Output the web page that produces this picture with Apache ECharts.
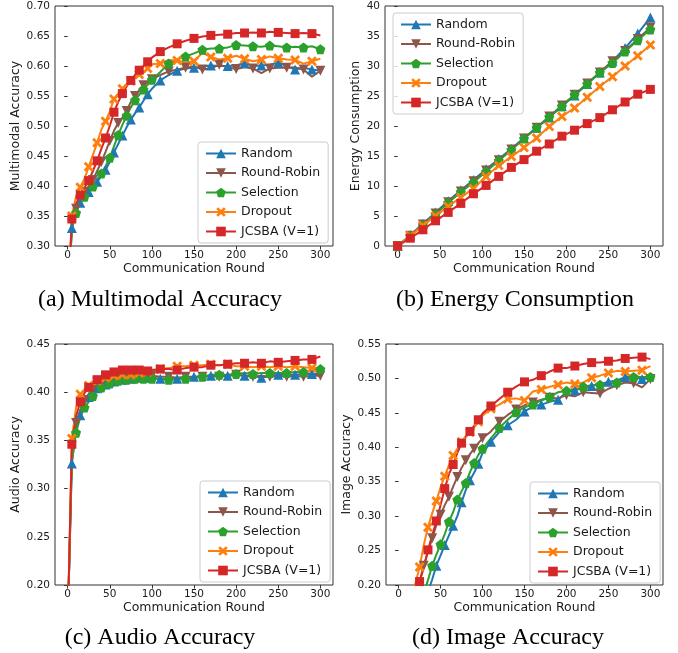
<!DOCTYPE html>
<html>
<head>
<meta charset="utf-8">
<script src="https://cdn.jsdelivr.net/npm/echarts@6/dist/echarts.min.js"></script>
<style>
  html, body { margin: 0; padding: 0; background: #fff; }
  #chart { width: 678px; height: 653px; }
</style>
</head>
<body>
<div id="chart"></div>
<script>
// method names, colours follow matplotlib tab10
var methods = ['Random', 'Round-Robin', 'Selection', 'Dropout', 'JCSBA (V=1)'];
var colors = ['#1f77b4', '#8c564b', '#2ca02c', '#ff7f0e', '#d62728'];
var xTicks = [0, 50, 100, 150, 200, 250, 300];

// rounds logged for the accuracy curves
var accRounds = [1, 5, 10, 15, 20, 25, 30, 35, 40, 45, 50, 55, 60, 65, 70, 75, 80, 85, 90, 95, 100,
  110, 120, 130, 140, 150, 160, 170, 180, 190, 200, 210, 220, 230, 240, 250, 260, 270, 280, 290, 300];
// rounds logged for energy
var enRounds = [0, 15, 30, 45, 60, 75, 90, 105, 120, 135, 150, 165, 180, 195, 210, 225, 240, 255, 270, 285, 300];

// (a) multimodal accuracy
var mmRandom = [0.22, 0.330, 0.360, 0.372, 0.382, 0.390, 0.398, 0.407, 0.416, 0.427, 0.440,
  0.456, 0.470, 0.484, 0.498, 0.511, 0.521, 0.531, 0.542, 0.553, 0.562,
  0.576, 0.585, 0.592, 0.596, 0.597, 0.599, 0.601, 0.600, 0.600, 0.601,
  0.605, 0.600, 0.601, 0.602, 0.606, 0.600, 0.594, 0.597, 0.594, 0.592];
var mmRR = [0.22, 0.335, 0.362, 0.378, 0.390, 0.400, 0.410, 0.425, 0.440, 0.457, 0.475,
  0.492, 0.505, 0.514, 0.525, 0.540, 0.550, 0.560, 0.568, 0.573, 0.578,
  0.585, 0.591, 0.594, 0.597, 0.599, 0.594, 0.596, 0.602, 0.598, 0.595,
  0.598, 0.596, 0.588, 0.596, 0.597, 0.597, 0.598, 0.594, 0.582, 0.592];
var mmSel = [0.22, 0.328, 0.355, 0.372, 0.382, 0.392, 0.399, 0.410, 0.421, 0.433, 0.447,
  0.466, 0.485, 0.502, 0.517, 0.531, 0.543, 0.552, 0.561, 0.569, 0.577,
  0.590, 0.604, 0.611, 0.616, 0.621, 0.627, 0.629, 0.629, 0.631, 0.635,
  0.634, 0.633, 0.632, 0.634, 0.633, 0.631, 0.632, 0.631, 0.633, 0.628];
var mmDrop = [0.22, 0.350, 0.383, 0.398, 0.412, 0.432, 0.452, 0.472, 0.494, 0.508, 0.524,
  0.545, 0.554, 0.562, 0.570, 0.575, 0.580, 0.586, 0.589, 0.596, 0.603,
  0.604, 0.610, 0.609, 0.606, 0.608, 0.622, 0.615, 0.611, 0.613, 0.617,
  0.612, 0.608, 0.611, 0.616, 0.613, 0.611, 0.610, 0.604, 0.608, 0.612];
var mmJC = [0.22, 0.345, 0.370, 0.385, 0.397, 0.409, 0.425, 0.442, 0.462, 0.480, 0.500,
  0.523, 0.540, 0.554, 0.566, 0.576, 0.585, 0.593, 0.600, 0.607, 0.614,
  0.624, 0.631, 0.637, 0.642, 0.646, 0.649, 0.651, 0.652, 0.653, 0.655,
  0.655, 0.656, 0.655, 0.657, 0.656, 0.655, 0.654, 0.655, 0.654, 0.651];

// (b) energy consumption
var enRandom = [0, 1.8, 3.7, 5.6, 7.5, 9.3, 11.0, 12.8, 14.5, 16.2, 18.0, 19.7, 21.4, 23.3, 25.1, 27.0, 28.9, 30.8, 33.0, 35.4, 38.1];
var enRR = [0, 1.7, 3.6, 5.4, 7.3, 9.1, 10.8, 12.6, 14.3, 16.1, 17.9, 19.7, 21.6, 23.4, 25.2, 27.1, 28.9, 30.8, 32.5, 34.5, 36.4];
var enSel = [0, 1.7, 3.5, 5.3, 7.2, 9.0, 10.6, 12.4, 14.2, 16.0, 17.9, 19.7, 21.5, 23.3, 25.2, 27.0, 28.9, 30.5, 32.4, 34.3, 36.1];
var enDrop = [0, 1.7, 3.4, 5.0, 6.6, 8.1, 9.6, 11.6, 13.4, 14.9, 16.4, 18.0, 19.9, 21.6, 23.0, 24.8, 26.6, 28.2, 30.0, 31.7, 33.5];
var enJC = [0, 1.3, 2.7, 4.2, 5.6, 7.1, 8.7, 10.1, 11.6, 13.1, 14.4, 15.8, 17.0, 18.3, 19.3, 20.4, 21.4, 22.7, 24.0, 25.3, 26.1];

// (c) audio accuracy
var auRandom = [0.19, 0.326, 0.362, 0.376, 0.388, 0.395, 0.400, 0.404, 0.406, 0.408, 0.410,
  0.411, 0.412, 0.413, 0.413, 0.414, 0.414, 0.415, 0.414, 0.415, 0.415,
  0.414, 0.413, 0.414, 0.415, 0.416, 0.416, 0.417, 0.418, 0.417, 0.418,
  0.417, 0.417, 0.415, 0.417, 0.418, 0.418, 0.418, 0.419, 0.419, 0.419];
var auRR = [0.19, 0.338, 0.368, 0.382, 0.392, 0.398, 0.403, 0.406, 0.409, 0.411, 0.412,
  0.413, 0.414, 0.414, 0.415, 0.415, 0.416, 0.416, 0.416, 0.417, 0.417,
  0.416, 0.416, 0.415, 0.416, 0.416, 0.416, 0.417, 0.416, 0.417, 0.418,
  0.417, 0.416, 0.417, 0.416, 0.417, 0.416, 0.417, 0.416, 0.417, 0.417];
var auSel = [0.19, 0.328, 0.358, 0.374, 0.384, 0.390, 0.396, 0.401, 0.405, 0.407, 0.409,
  0.411, 0.412, 0.412, 0.413, 0.413, 0.414, 0.414, 0.414, 0.414, 0.414,
  0.414, 0.413, 0.414, 0.414, 0.415, 0.416, 0.418, 0.418, 0.418, 0.419,
  0.420, 0.419, 0.420, 0.420, 0.420, 0.420, 0.421, 0.421, 0.422, 0.424];
var auDrop = [0.19, 0.352, 0.384, 0.398, 0.403, 0.407, 0.410, 0.412, 0.414, 0.415, 0.416,
  0.417, 0.417, 0.418, 0.417, 0.418, 0.419, 0.420, 0.421, 0.421, 0.422,
  0.424, 0.425, 0.427, 0.427, 0.428, 0.428, 0.429, 0.428, 0.429, 0.427,
  0.427, 0.426, 0.427, 0.426, 0.427, 0.426, 0.427, 0.426, 0.425, 0.425];
var auJC = [0.19, 0.346, 0.375, 0.390, 0.399, 0.405, 0.410, 0.413, 0.416, 0.418, 0.420,
  0.421, 0.422, 0.423, 0.423, 0.423, 0.422, 0.423, 0.423, 0.422, 0.423,
  0.424, 0.424, 0.423, 0.425, 0.426, 0.426, 0.428, 0.428, 0.429, 0.430,
  0.430, 0.431, 0.430, 0.432, 0.431, 0.432, 0.433, 0.434, 0.434, 0.437];

// (d) image accuracy (null = not drawn, far below the axis)
var imRandom = [null, null, null, null, null, null, 0.170, 0.190, 0.208, 0.228, 0.243,
  0.258, 0.272, 0.286, 0.300, 0.320, 0.338, 0.352, 0.363, 0.376, 0.392,
  0.408, 0.422, 0.432, 0.440, 0.452, 0.459, 0.462, 0.466, 0.469, 0.480,
  0.483, 0.486, 0.489, 0.492, 0.495, 0.497, 0.502, 0.502, 0.499, 0.500];
var imRR = [null, null, null, null, 0.185, 0.205, 0.228, 0.248, 0.268, 0.287, 0.302,
  0.316, 0.328, 0.343, 0.357, 0.370, 0.381, 0.390, 0.398, 0.406, 0.413,
  0.423, 0.437, 0.447, 0.455, 0.461, 0.465, 0.469, 0.472, 0.471, 0.476,
  0.474, 0.480, 0.479, 0.478, 0.485, 0.490, 0.494, 0.493, 0.487, 0.499];
var imSel = [null, null, null, null, null, 0.170, 0.188, 0.207, 0.228, 0.244, 0.259,
  0.274, 0.292, 0.306, 0.324, 0.336, 0.348, 0.364, 0.377, 0.389, 0.398,
  0.413, 0.428, 0.440, 0.451, 0.458, 0.462, 0.468, 0.473, 0.480, 0.482,
  0.485, 0.488, 0.490, 0.491, 0.492, 0.494, 0.499, 0.502, 0.502, 0.502];
var imDrop = [null, null, null, 0.180, 0.202, 0.226, 0.258, 0.284, 0.304, 0.322, 0.342,
  0.358, 0.374, 0.388, 0.398, 0.408, 0.416, 0.422, 0.429, 0.437, 0.446,
  0.456, 0.462, 0.470, 0.471, 0.468, 0.481, 0.484, 0.488, 0.491, 0.494,
  0.492, 0.494, 0.501, 0.504, 0.508, 0.511, 0.510, 0.511, 0.512, 0.518];
var imJC = [null, null, null, null, 0.188, 0.205, 0.225, 0.251, 0.272, 0.293, 0.316,
  0.340, 0.361, 0.375, 0.392, 0.406, 0.415, 0.423, 0.431, 0.440, 0.449,
  0.460, 0.470, 0.480, 0.488, 0.495, 0.498, 0.504, 0.510, 0.515, 0.515,
  0.518, 0.521, 0.523, 0.523, 0.525, 0.526, 0.529, 0.530, 0.531, 0.528];

// marker shapes: ^, v, pentagon, X, square
var symbols = [
  'triangle',
  'path://M0,0 L100,0 L50,87 Z',
  'path://M50,0 L97.6,34.5 L79.4,90.5 L20.6,90.5 L2.4,34.5 Z',
  'path://M20,0 L50,30 L80,0 L100,20 L70,50 L100,80 L80,100 L50,70 L20,100 L0,80 L30,50 L0,20 Z',
  'rect'
];
var symSizes = [10, 10, 10, 10, 9];
var markOff = [1, 0, 0, 1, 1];

var font = 'DejaVu Sans';
var ink = '#1a1a1a';

var myChart = echarts.init(document.getElementById('chart'));

var panels = [
  {rounds: accRounds, data: [mmRandom, mmRR, mmSel, mmDrop, mmJC], yMin: 0.3, yMax: 0.7, yStep: 0.05, dec: 2,
    yName: 'Multimodal Accuracy', nameGap: 29, grid: {left: 55, top: 6, width: 278, height: 240},
    legend: {left: 198, top: 142}, every: true},
  {rounds: enRounds, data: [enRandom, enRR, enSel, enDrop, enJC], yMin: 0, yMax: 40, yStep: 5, dec: 0,
    yName: 'Energy Consumption', nameGap: 16, grid: {left: 385, top: 6, width: 278, height: 240},
    legend: {left: 393, top: 13}, every: false},
  {rounds: accRounds, data: [auRandom, auRR, auSel, auDrop, auJC], yMin: 0.2, yMax: 0.45, yStep: 0.05, dec: 2,
    yName: 'Audio Accuracy', nameGap: 29, grid: {left: 55, top: 344, width: 278, height: 241},
    legend: {left: 200, top: 481}, every: true},
  {rounds: accRounds, data: [imRandom, imRR, imSel, imDrop, imJC], yMin: 0.2, yMax: 0.55, yStep: 0.05, dec: 2,
    yName: 'Image Accuracy', nameGap: 29, grid: {left: 386, top: 344, width: 277, height: 241},
    legend: {left: 530, top: 482}, every: true}
];

var grids = [], xAxes = [], yAxes = [], series = [], legends = [];

panels.forEach(function (p, gi) {
  grids.push({left: p.grid.left, top: p.grid.top, width: p.grid.width, height: p.grid.height,
    show: true, borderColor: '#333', borderWidth: 1, backgroundColor: 'transparent'});
  xAxes.push({
    gridIndex: gi, type: 'value', min: -15, max: 315,
    name: 'Communication Round', nameLocation: 'middle', nameGap: 16,
    nameTextStyle: {fontFamily: font, fontSize: 12.5, color: ink},
    axisLine: {show: false},
    axisTick: {show: true, length: 3.5, customValues: xTicks, lineStyle: {color: '#333'}},
    axisLabel: {customValues: xTicks, fontFamily: font, fontSize: 10.5, color: ink, margin: 4},
    splitLine: {show: false}
  });
  yAxes.push({
    gridIndex: gi, type: 'value', min: p.yMin, max: p.yMax, interval: p.yStep,
    name: p.yName, nameLocation: 'middle', nameGap: p.nameGap,
    nameTextStyle: {fontFamily: font, fontSize: 12.5, color: ink},
    axisLine: {show: false},
    axisTick: {show: true, length: 3.5, lineStyle: {color: '#333'}},
    axisLabel: {fontFamily: font, fontSize: 10.5, color: ink, margin: 5,
      formatter: function (v) { return v.toFixed(p.dec); }},
    splitLine: {show: false}
  });
  p.data.forEach(function (vals, si) {
    var pts = p.rounds.map(function (r, k) { return [r, vals[k]]; });
    series.push({
      name: methods[si], type: 'line', xAxisIndex: gi, yAxisIndex: gi,
      data: pts, color: colors[si],
      lineStyle: {width: 2, color: colors[si]},
      itemStyle: {color: colors[si]},
      symbol: symbols[si],
      symbolSize: function (val, params) {
        var i = params.dataIndex;
        if (!p.every) return symSizes[si];
        if (i === 0) return 0;
        return (i % 2 === markOff[si]) ? symSizes[si] : 0;
      },
      showAllSymbol: true, animation: false, clip: true
    });
  });
  legends.push({
    orient: 'vertical', left: p.legend.left, top: p.legend.top,
    data: methods, itemWidth: 30, itemHeight: 12, itemGap: 6.5,
    padding: [5, 8, 5, 7], borderColor: '#cccccc', borderWidth: 1, borderRadius: 3,
    backgroundColor: 'rgba(255,255,255,0.8)',
    textStyle: {fontFamily: font, fontSize: 12.5, color: ink},
    selectedMode: false
  });
});

var captions = [
  {text: '(a) Multimodal Accuracy', x: 160, y: 300},
  {text: '(b) Energy Consumption', x: 515, y: 300},
  {text: '(c) Audio Accuracy', x: 160, y: 638},
  {text: '(d) Image Accuracy', x: 508, y: 638}
];

myChart.setOption({
  backgroundColor: '#fff',
  animation: false,
  grid: grids,
  xAxis: xAxes,
  yAxis: yAxes,
  legend: legends,
  series: series,
  graphic: captions.map(function (c) {
    return {type: 'text', x: c.x, y: c.y,
      style: {text: c.text, fontFamily: 'Liberation Serif', fontSize: 24, fill: '#000',
        align: 'center', verticalAlign: 'middle'}};
  })
});
</script>
</body>
</html>
